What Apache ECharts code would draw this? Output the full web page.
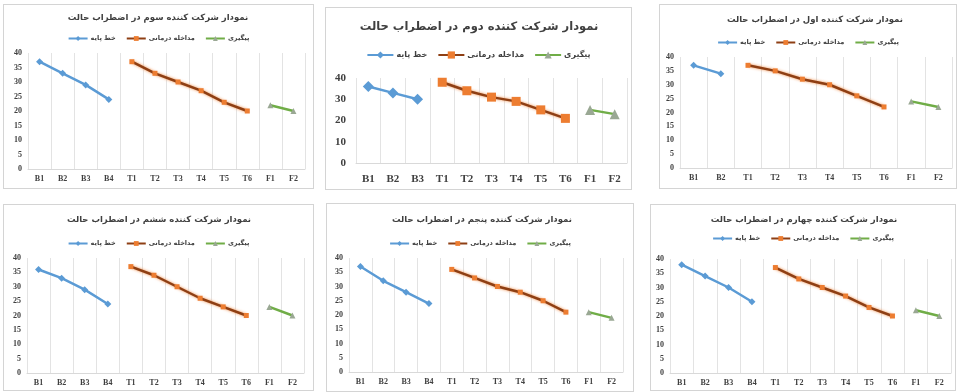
<!DOCTYPE html>
<html>
<head>
<meta charset="utf-8">
<script src="https://cdn.jsdelivr.net/npm/echarts@6/dist/echarts.min.js"></script>
<style>
  html, body { margin: 0; padding: 0; background: #ffffff; }
  body { width: 957px; height: 392px; position: relative; overflow: hidden; }
  .panel { position: absolute; box-sizing: border-box; border: 1px solid #d4d4d4; background: #fff; }
</style>
</head>
<body>
<div id="p3" class="panel"></div>
<div id="p2" class="panel"></div>
<div id="p1" class="panel"></div>
<div id="p6" class="panel"></div>
<div id="p5" class="panel"></div>
<div id="p4" class="panel"></div>
<script>
// Legend names shared by every participant chart
const seriesNames = ['خط پایه', 'مداخله درمانی', 'پیگیری'];

// Participant 1
const firstTitle = 'نمودار شرکت کننده اول در اضطراب حالت';
const firstCategories = ['B1', 'B2', 'T1', 'T2', 'T3', 'T4', 'T5', 'T6', 'F1', 'F2'];
const firstBaseline = [37, 34];
const firstTreatment = [37, 35, 32, 30, 26, 22];
const firstFollowup = [24, 22];

// Participant 2
const secondTitle = 'نمودار شرکت کننده دوم در اضطراب حالت';
const secondCategories = ['B1', 'B2', 'B3', 'T1', 'T2', 'T3', 'T4', 'T5', 'T6', 'F1', 'F2'];
const secondBaseline = [36, 33, 30];
const secondTreatment = [38, 34, 31, 29, 25, 21];
const secondFollowup = [25, 23];

// Participant 3
const thirdTitle = 'نمودار شرکت کننده سوم در اضطراب حالت';
const thirdCategories = ['B1', 'B2', 'B3', 'B4', 'T1', 'T2', 'T3', 'T4', 'T5', 'T6', 'F1', 'F2'];
const thirdBaseline = [37, 33, 29, 24];
const thirdTreatment = [37, 33, 30, 27, 23, 20];
const thirdFollowup = [22, 20];

// Participant 4
const fourthTitle = 'نمودار شرکت کننده چهارم در اضطراب حالت';
const fourthCategories = ['B1', 'B2', 'B3', 'B4', 'T1', 'T2', 'T3', 'T4', 'T5', 'T6', 'F1', 'F2'];
const fourthBaseline = [38, 34, 30, 25];
const fourthTreatment = [37, 33, 30, 27, 23, 20];
const fourthFollowup = [22, 20];

// Participant 5
const fifthTitle = 'نمودار شرکت کننده پنجم در اضطراب حالت';
const fifthCategories = ['B1', 'B2', 'B3', 'B4', 'T1', 'T2', 'T3', 'T4', 'T5', 'T6', 'F1', 'F2'];
const fifthBaseline = [37, 32, 28, 24];
const fifthTreatment = [36, 33, 30, 28, 25, 21];
const fifthFollowup = [21, 19];

// Participant 6
const sixthTitle = 'نمودار شرکت کننده ششم در اضطراب حالت';
const sixthCategories = ['B1', 'B2', 'B3', 'B4', 'T1', 'T2', 'T3', 'T4', 'T5', 'T6', 'F1', 'F2'];
const sixthBaseline = [36, 33, 29, 24];
const sixthTreatment = [37, 34, 30, 26, 23, 20];
const sixthFollowup = [23, 20];

// Text and mark sizes of the small panels and of the larger second panel
const smallStyle = { title: 8.5, legend: 6.5, iconW: 19, iconH: 6, gap: 10, axis: 8, xMargin: 6, yMargin: 6, symbol: 5, line: 2.5, yStep: 5 };
const largeStyle = { title: 11.5, legend: 8, iconW: 26, iconH: 9, gap: 10, axis: 11, xMargin: 11, yMargin: 10, symbol: 9, line: 2.5, yStep: 10 };

// Place a phase's values on its own categories, leaving the rest empty
function phaseData(categories, values, offset) {
  return categories.map((c, i) => (i >= offset && i < offset + values.length) ? values[i - offset] : null);
}

function drawPanel(id, box, grid, titleTop, titleX, legendTop, legendShift, st, title, categories, baseline, treatment, followup) {
  const el = document.getElementById(id);
  el.style.left = box[0] + 'px';
  el.style.top = box[1] + 'px';
  el.style.width = box[2] + 'px';
  el.style.height = box[3] + 'px';
  const chart = echarts.init(el, null, { renderer: 'canvas', width: box[2] - 2, height: box[3] - 2 });
  const arabicFont = 'DejaVu Sans';
  const axisFont = 'Liberation Serif';
  const option = {
    animation: false,
    title: {
      text: title,
      left: titleX,
      top: titleTop,
      padding: 0,
      textAlign: 'center',
      textStyle: { fontFamily: arabicFont, fontSize: st.title, fontWeight: 'bold', color: '#404040' }
    },
    legend: {
      data: seriesNames,
      left: 'center',
      top: legendTop,
      padding: [0, 0, 0, legendShift],
      itemWidth: st.iconW,
      itemHeight: st.iconH,
      itemGap: st.gap,
      textStyle: { fontFamily: arabicFont, fontSize: st.legend, fontWeight: 'bold', color: '#404040', padding: [0, 0, 0, -2] }
    },
    grid: { left: grid[0], top: grid[1], width: grid[2], height: grid[3], containLabel: false },
    xAxis: {
      type: 'category',
      data: categories,
      boundaryGap: true,
      axisLine: { show: true, lineStyle: { color: '#d9d9d9', width: 1 } },
      axisTick: { show: false },
      splitLine: { show: true, lineStyle: { color: '#e3e3e3', width: 1 } },
      axisLabel: { margin: st.xMargin, fontFamily: axisFont, fontWeight: 'bold', fontSize: st.axis, color: '#404040', interval: 0 }
    },
    yAxis: {
      type: 'value',
      min: 0,
      max: 40,
      interval: st.yStep,
      axisLine: { show: false },
      axisTick: { show: false },
      splitLine: { show: false },
      axisLabel: { margin: st.yMargin, fontFamily: axisFont, fontWeight: 'bold', fontSize: st.axis, color: '#404040' }
    },
    series: [
      {
        name: seriesNames[0],
        type: 'line',
        data: phaseData(categories, baseline, 0),
        symbol: 'diamond',
        symbolSize: st.symbol + 2,
        lineStyle: { color: '#5b9bd5', width: st.line },
        itemStyle: { color: '#5b9bd5' },
        connectNulls: false
      },
      {
        name: seriesNames[1],
        type: 'line',
        data: phaseData(categories, treatment, baseline.length),
        symbol: 'rect',
        symbolSize: st.symbol,
        lineStyle: { color: '#8e3f14', width: st.line, shadowColor: 'rgba(237,125,49,0.9)', shadowBlur: 3 },
        itemStyle: { color: '#ed7d31' },
        connectNulls: false
      },
      {
        name: seriesNames[2],
        type: 'line',
        data: phaseData(categories, followup, baseline.length + treatment.length),
        symbol: 'triangle',
        symbolSize: st.symbol + 1,
        lineStyle: { color: '#70ad47', width: st.line },
        itemStyle: { color: '#9aa894' },
        connectNulls: false
      }
    ]
  };
  chart.setOption(option);
}

// Top row
drawPanel('p1', [3, 4, 311, 185], [24, 48, 277, 116], 8, 154, 30, 19, smallStyle,
  thirdTitle, thirdCategories, thirdBaseline, thirdTreatment, thirdFollowup);
drawPanel('p2', [325, 7, 307, 183], [30, 70, 271, 85], 13, 153, 43, 27, largeStyle,
  secondTitle, secondCategories, secondBaseline, secondTreatment, secondFollowup);
drawPanel('p3', [659, 4, 298, 185], [20, 52, 272, 111], 10, 155, 34, 25, smallStyle,
  firstTitle, firstCategories, firstBaseline, firstTreatment, firstFollowup);

// Bottom row
drawPanel('p4', [3, 204, 311, 187], [23, 53, 277, 115], 10, 155, 35, 12, smallStyle,
  sixthTitle, sixthCategories, sixthBaseline, sixthTreatment, sixthFollowup);
drawPanel('p5', [326, 203, 308, 189], [22, 54, 274, 114], 11, 155, 36, 25, smallStyle,
  fifthTitle, fifthCategories, fifthBaseline, fifthTreatment, fifthFollowup);
drawPanel('p6', [650, 204, 306, 187], [19, 54, 281, 114], 10, 153, 30, 27, smallStyle,
  fourthTitle, fourthCategories, fourthBaseline, fourthTreatment, fourthFollowup);
</script>
</body>
</html>
